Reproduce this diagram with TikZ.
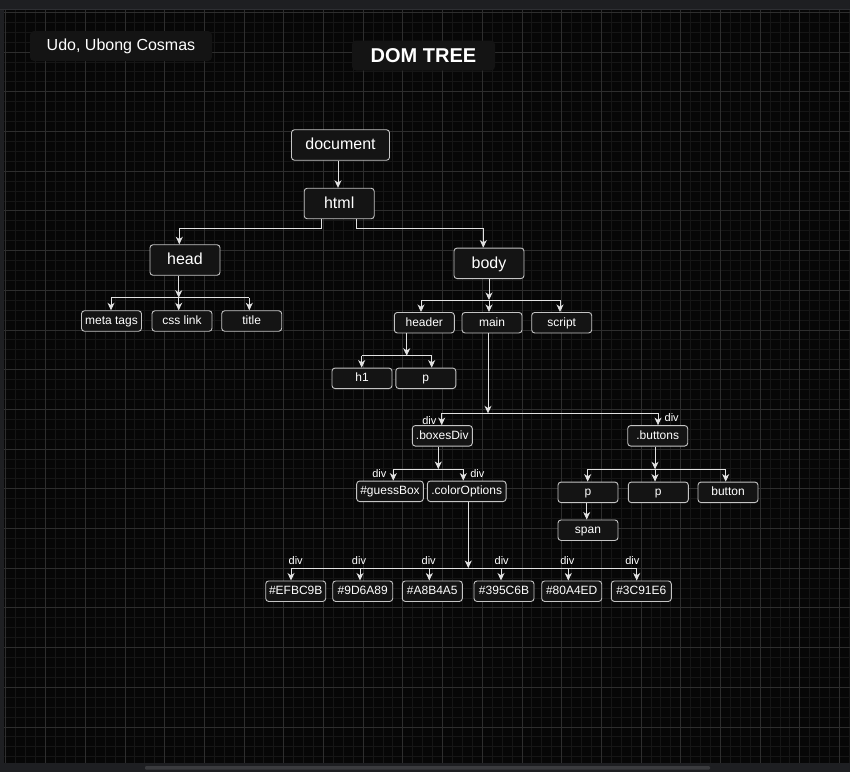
\documentclass[tikz,border=0pt]{standalone}
\usepackage{fontspec}
\setmainfont{Liberation Sans}
\usetikzlibrary{arrows.meta}
\definecolor{framecol}{HTML}{1E1F22}
\definecolor{framelinecol}{HTML}{2E2F33}
\definecolor{scrollcol}{HTML}{3A3B3E}
\definecolor{bgcol}{HTML}{070707}
\definecolor{minorcol}{HTML}{161616}
\definecolor{majorcol}{HTML}{2E2E2E}
\definecolor{nodefill}{HTML}{141414}
\definecolor{nodeborder}{HTML}{C4C4C4}
\definecolor{edgecol}{HTML}{E2E2E2}
\tikzset{
  box/.style={draw=nodeborder, fill=nodefill, rounded corners=3pt, line width=0.9pt,
    text=white, inner sep=0pt, minimum height=20.5pt, minimum width=60pt,
    font=\fontsize{12}{14}\selectfont, text height=9.6pt, text depth=2.5pt},
  bigbox/.style={box, minimum width=70pt, minimum height=30.5pt,
    font=\fontsize{16}{19}\selectfont, text height=12.8pt, text depth=3.4pt},
  conn/.style={draw=edgecol, line width=0.9pt},
  arr/.style={conn, -{Stealth[length=7.5pt,width=7pt,inset=2.2pt]}, shorten >=0pt},
  lbl/.style={text=white, font=\fontsize{11}{13}\selectfont, inner sep=0pt},
  titlebox/.style={fill=nodefill, rounded corners=4pt, text=white, inner sep=0pt},
}
\begin{document}
\begin{tikzpicture}[x=1pt,y=-1pt]
\useasboundingbox (0,0) rectangle (850,772);
% frame
\fill[framecol] (0,0) rectangle (850,772);
\fill[bgcol] (4,10) rectangle (850,762.7);
\draw[framelinecol, line width=1pt] (0,9.5) -- (850,9.5);
\fill[scrollcol, rounded corners=1pt] (145,766) rectangle (710,769.5);
% grid
\begin{scope}
\clip (4,10) rectangle (850,762.7);
\foreach \i in {0,...,85} \draw[minorcol, line width=0.8pt] ({5.8+9.925*\i},10) -- ++(0,753);
\foreach \j in {0,...,77} \draw[minorcol, line width=0.8pt] (4,{2.4+9.925*\j}) -- ++(846,0);
\foreach \i in {0,...,21} \draw[majorcol, line width=0.8pt] ({5.8+39.7*\i},10) -- ++(0,753);
\foreach \j in {0,...,19} \draw[majorcol, line width=0.8pt] (4,{12.3+39.7*\j}) -- ++(846,0);
\end{scope}
% title boxes
\node[titlebox, minimum width=182pt, minimum height=30pt, font=\fontsize{16}{19}\selectfont] (author) at (121,46) {Udo, Ubong Cosmas};
\node[titlebox, minimum width=143pt, minimum height=30pt, font=\bfseries\fontsize{20}{24}\selectfont] (domtitle) at (423.5,55.5) {DOM TREE};
% main nodes
\node[bigbox, minimum width=98pt] (document) at (340.5,145) {document};
\node[bigbox] (html) at (339.2,203.5) {html};
\node[bigbox] (head) at (185,260) {head};
\node[bigbox] (body) at (489,263.3) {body};
\node[box] (meta) at (111.5,321) {meta tags};
\node[box] (css) at (182,321) {css link};
\node[box] (title) at (251.7,321) {title};
\node[box] (header) at (424.3,322.7) {header};
\node[box] (main) at (492,322.7) {main};
\node[box] (script) at (561.7,322.7) {script};
\node[box] (h1) at (362,378.3) {h1};
\node[box] (hp) at (425.8,378.3) {p};
\node[box] (boxes) at (442.3,435.8) {.boxesDiv};
\node[box] (buttons) at (657.7,435.8) {.buttons};
\node[box, minimum width=66.7pt] (guess) at (390,491.3) {\#guessBox};
\node[box, minimum width=78.7pt] (colopt) at (466.7,491.3) {.colorOptions};
\node[box] (bp1) at (588,492.3) {p};
\node[box] (bp2) at (658.3,492.3) {p};
\node[box] (button) at (728,492.3) {button};
\node[box] (span) at (588,530.2) {span};
\node[box] (c1) at (295.7,591.2) {\#EFBC9B};
\node[box] (c2) at (362.7,591.2) {\#9D6A89};
\node[box] (c3) at (432.3,591.2) {\#A8B4A5};
\node[box] (c4) at (504,591.2) {\#395C6B};
\node[box] (c5) at (571.7,591.2) {\#80A4ED};
\node[box] (c6) at (641.3,591.2) {\#3C91E6};
% coordinates
\coordinate (dx) at (338,0);
\coordinate (hh1) at (321.3,228.3);
\coordinate (hh2) at (179.3,228.3);
\coordinate (hb1) at (356,228.3);
\coordinate (hb2) at (483.3,228.3);
\coordinate (hA) at (178.7,297.7);
\coordinate (hL) at (111,297.7);
\coordinate (hR) at (249.3,297.7);
\coordinate (bA) at (489,300);
\coordinate (bL) at (421,300);
\coordinate (bR) at (560,300);
\coordinate (eA) at (406.7,355.7);
\coordinate (eL) at (361.7,355.7);
\coordinate (eR) at (431.7,355.7);
\coordinate (mA) at (488,413.3);
\coordinate (mL) at (441.7,413.3);
\coordinate (mR) at (658,413.3);
\coordinate (xA) at (438.3,469);
\coordinate (xL) at (393.3,469);
\coordinate (xR) at (463.3,469);
\coordinate (tA) at (655,469.3);
\coordinate (tL) at (587.7,469.3);
\coordinate (tR) at (725.7,469.3);
\coordinate (sx) at (586.7,0);
\coordinate (cA) at (468.3,568);
\coordinate (k1) at (291,568);
\coordinate (k2) at (360,568);
\coordinate (k3) at (429.3,568);
\coordinate (k4) at (501,568);
\coordinate (k5) at (568.3,568);
\coordinate (k6) at (636.7,568);
% edges
\draw[arr] (document.south -| dx) -- (html.north -| dx);
\draw[arr] (html.south -| hh1) -- (hh1) -| (hh2 |- head.north);
\draw[arr] (html.south -| hb1) -- (hb1) -| (hb2 |- body.north);
% head children
\draw[conn] (hL) -- (hR);
\draw[arr] (head.south -| hA) -- (hA);
\draw[arr] (hL) -- (hL |- meta.north);
\draw[arr] (hA) -- (hA |- css.north);
\draw[arr] (hR) -- (hR |- title.north);
% body children
\draw[conn] (bL) -- (bR);
\draw[arr] (body.south -| bA) -- (bA);
\draw[arr] (bL) -- (bL |- header.north);
\draw[arr] (bA) -- (bA |- main.north);
\draw[arr] (bR) -- (bR |- script.north);
% header children
\draw[conn] (eL) -- (eR);
\draw[arr] (header.south -| eA) -- (eA);
\draw[arr] (eL) -- (eL |- h1.north);
\draw[arr] (eR) -- (eR |- hp.north);
% main children
\draw[conn] (mL) -- (mR);
\draw[arr] (main.south -| mA) -- (mA);
\draw[arr] (mL) -- (mL |- boxes.north);
\draw[arr] (mR) -- (mR |- buttons.north);
% boxesDiv children
\draw[conn] (xL) -- (xR);
\draw[arr] (boxes.south -| xA) -- (xA);
\draw[arr] (xL) -- (xL |- guess.north);
\draw[arr] (xR) -- (xR |- colopt.north);
% buttons children
\draw[conn] (tL) -- (tR);
\draw[arr] (buttons.south -| tA) -- (tA);
\draw[arr] (tL) -- (tL |- bp1.north);
\draw[arr] (tA) -- (tA |- bp2.north);
\draw[arr] (tR) -- (tR |- button.north);
\draw[arr] (bp1.south -| sx) -- (span.north -| sx);
% colour children
\draw[conn] (k1) -- (k6);
\draw[arr] (colopt.south -| cA) -- (cA);
\draw[arr] (k1) -- (k1 |- c1.north);
\draw[arr] (k2) -- (k2 |- c2.north);
\draw[arr] (k3) -- (k3 |- c3.north);
\draw[arr] (k4) -- (k4 |- c4.north);
\draw[arr] (k5) -- (k5 |- c5.north);
\draw[arr] (k6) -- (k6 |- c6.north);
% labels
\node[lbl] (l1) at (429.3,420.2) {div};
\node[lbl] (l2) at (671.7,417.5) {div};
\node[lbl] (l3) at (379.3,473.8) {div};
\node[lbl] (l4) at (477.3,473.8) {div};
\node[lbl] (l5) at (295.7,560.5) {div};
\node[lbl] (l6) at (359,560.5) {div};
\node[lbl] (l7) at (428.7,560.5) {div};
\node[lbl] (l8) at (501.7,560.5) {div};
\node[lbl] (l9) at (567.3,560.5) {div};
\node[lbl] (l10) at (632.3,560.5) {div};
\end{tikzpicture}
\end{document}
